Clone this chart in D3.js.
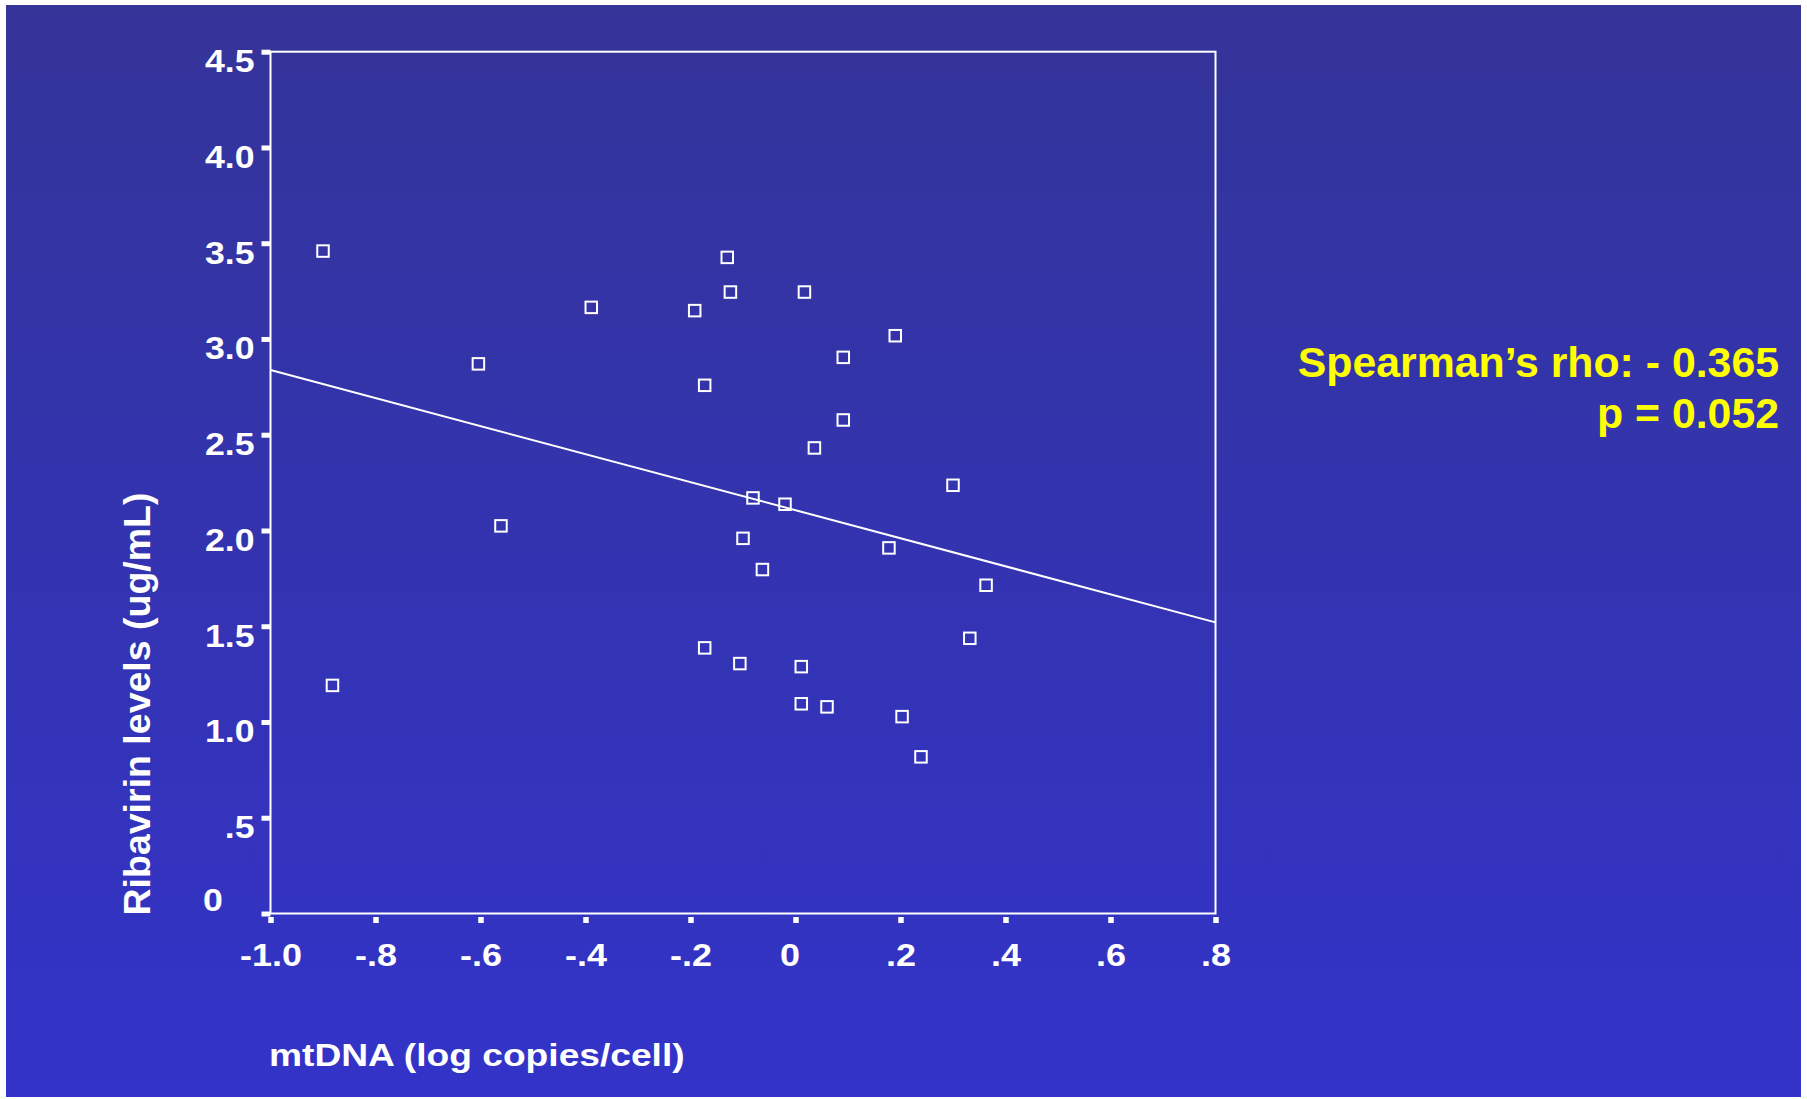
<!DOCTYPE html>
<html>
<head>
<meta charset="utf-8">
<script src="https://cdn.jsdelivr.net/npm/d3@7"></script>
<style>
    body { margin: 0; background: #ffffff; }
    svg text { font-family: "Liberation Sans", Arial, sans-serif; font-weight: bold; }
</style>
</head>
<body>
<div id="chart"></div>
<script>
// data
const mtDNA = [-0.900, -0.882, -0.604, -0.561, -0.389, -0.192, -0.173, -0.173, -0.130, -0.124,
               -0.106, -0.100, -0.081, -0.063, -0.020, 0.011, 0.011, 0.017, 0.036, 0.060,
               0.091, 0.091, 0.178, 0.190, 0.203, 0.239, 0.300, 0.332, 0.363];
const ribavirin = [3.459, 1.191, 2.870, 2.024, 3.165, 3.148, 2.758, 1.387, 3.426, 3.245,
                   1.305, 1.959, 2.170, 1.796, 2.137, 1.289, 1.095, 3.245, 2.431, 1.079,
                   2.904, 2.577, 1.909, 3.017, 1.028, 0.818, 2.236, 1.437, 1.714];

// regression line ends (x, y)
const fitX = [-1.0, 0.8];
const fitY = [2.838, 1.520];

const xTicks = [-1.0, -0.8, -0.6, -0.4, -0.2, 0, 0.2, 0.4, 0.6, 0.8];
const xTickLabels = ["-1.0", "-.8", "-.6", "-.4", "-.2", "0", ".2", ".4", ".6", ".8"];
const yTicks = [0, 0.5, 1.0, 1.5, 2.0, 2.5, 3.0, 3.5, 4.0, 4.5];
const yTickLabels = ["0", ".5", "1.0", "1.5", "2.0", "2.5", "3.0", "3.5", "4.0", "4.5"];

const statLines = ["Spearman\u2019s rho: - 0.365", "p = 0.052"];

class ScatterVis {
    constructor(_parentElement) {
        this.parentElement = _parentElement;
        this.data = mtDNA.map((d, i) => ({ x: d, y: ribavirin[i] }));
        this.initVis();
    }

    initVis() {
        let vis = this;

        vis.svg = d3.select(`#${vis.parentElement}`)
            .append("svg")
            .attr("width", 1807)
            .attr("height", 1099);

        // slide background
        const grad = vis.svg.append("defs").append("linearGradient")
            .attr("id", "bg")
            .attr("x1", 0).attr("y1", 0).attr("x2", 0).attr("y2", 1);
        grad.append("stop").attr("offset", "0%").attr("stop-color", "#343499");
        grad.append("stop").attr("offset", "100%").attr("stop-color", "#3333c9");

        vis.svg.append("rect")
            .attr("x", 6).attr("y", 5)
            .attr("width", 1795).attr("height", 1092)
            .attr("fill", "url(#bg)");

        // scales
        vis.x = d3.scaleLinear().domain([-1.0, 0.8]).range([270.5, 1215.5]);
        vis.y = d3.scaleLinear().domain([0, 4.5]).range([913.5, 51.7]);

        // frame
        vis.svg.append("rect")
            .attr("x", vis.x(-1.0))
            .attr("y", vis.y(4.5))
            .attr("width", vis.x(0.8) - vis.x(-1.0))
            .attr("height", vis.y(0) - vis.y(4.5))
            .attr("fill", "none")
            .attr("stroke", "white")
            .attr("stroke-width", 2);

        // y axis
        vis.yAxis = d3.axisLeft(vis.y)
            .tickValues(yTicks)
            .tickSize(9)
            .tickFormat((d, i) => yTickLabels[i]);

        vis.yAxisGroup = vis.svg.append("g")
            .attr("class", "axis y-axis")
            .attr("transform", `translate(${vis.x(-1.0)},0)`)
            .call(vis.yAxis);

        vis.yAxisGroup.select(".domain").remove();
        vis.yAxisGroup.selectAll(".tick line")
            .attr("stroke", "white")
            .attr("stroke-width", 5);
        vis.yAxisGroup.selectAll(".tick text")
            .attr("x", null).attr("dy", null)
            .attr("fill", "white")
            .style("font-size", "30.5px")
            .attr("text-anchor", d => d === 0 ? "start" : "end")
            .attr("transform", d => d === 0 ? "translate(-67.5,-3.5) scale(1.17,1)" : "translate(-16,20) scale(1.17,1)");

        // x axis
        vis.xAxis = d3.axisBottom(vis.x)
            .tickValues(xTicks)
            .tickSize(9.5)
            .tickFormat((d, i) => xTickLabels[i]);

        vis.xAxisGroup = vis.svg.append("g")
            .attr("class", "axis x-axis")
            .attr("transform", `translate(0,${vis.y(0)})`)
            .call(vis.xAxis);

        vis.xAxisGroup.select(".domain").remove();
        vis.xAxisGroup.selectAll(".tick line")
            .attr("y1", 3.5)
            .attr("stroke", "white")
            .attr("stroke-width", 5.5);
        vis.xAxisGroup.selectAll(".tick text")
            .attr("y", null).attr("dy", null)
            .attr("fill", "white")
            .style("font-size", "31px")
            .attr("text-anchor", "middle")
            .attr("transform", d => `translate(${d === 0 ? -6 : 0},52.5) scale(1.16,1)`);

        // axis titles
        vis.svg.append("text")
            .attr("class", "x-axis-label")
            .attr("transform", "translate(269,1066) scale(1.18,1)")
            .attr("fill", "white")
            .style("font-size", "31.5px")
            .attr("text-anchor", "start")
            .text("mtDNA (log copies/cell)");

        vis.svg.append("text")
            .attr("class", "y-axis-label")
            .attr("transform", "translate(150,704) rotate(-90)")
            .attr("fill", "white")
            .style("font-size", "37.5px")
            .attr("text-anchor", "middle")
            .text("Ribavirin levels (ug/mL)");

        // statistics note
        vis.svg.append("g")
            .attr("class", "stats")
            .selectAll("text")
            .data(statLines)
            .enter().append("text")
            .attr("x", 1779)
            .attr("y", (d, i) => 377 + i * 51)
            .attr("fill", "#ffff00")
            .style("font-size", "42.8px")
            .attr("text-anchor", "end")
            .text(d => d);

        vis.updateVis();
    }

    updateVis() {
        let vis = this;

        // regression line
        const fit = fitX.map((d, i) => ({ x: d, y: fitY[i] }));
        vis.svg.append("path")
            .datum(fit)
            .attr("fill", "none")
            .attr("stroke", "white")
            .attr("stroke-width", 2)
            .attr("d", d3.line().x(d => vis.x(d.x)).y(d => vis.y(d.y)));

        // hollow square markers
        const s = 11.5;
        vis.svg.selectAll(".dot")
            .data(vis.data)
            .enter().append("rect")
            .attr("class", "dot")
            .attr("x", d => vis.x(d.x) - s / 2)
            .attr("y", d => vis.y(d.y) - s / 2)
            .attr("width", s)
            .attr("height", s)
            .attr("fill", "none")
            .attr("stroke", "white")
            .attr("stroke-width", 2);
    }
}

new ScatterVis("chart");
</script>
</body>
</html>
